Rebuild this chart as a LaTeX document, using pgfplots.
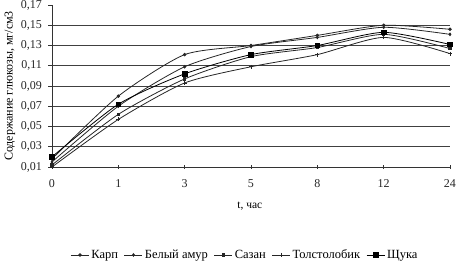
\documentclass[border=0pt]{standalone}
\usepackage{pgfplots}
\pgfplotsset{compat=1.18}
\usetikzlibrary{calc}
\usepackage{fontspec}
\setmainfont{Liberation Serif}
\begin{document}
\begin{tikzpicture}[x=1pt,y=1pt]
\begin{axis}[
  scale only axis, width=398pt, height=162pt,
  xmin=0, xmax=6, ymin=0.01, ymax=0.17,
  xtick={0,1,2,3,4,5,6},
  xticklabels={0,1,3,5,8,12,24},
  ytick={0.01,0.03,0.05,0.07,0.09,0.11,0.13,0.15},
  extra y ticks={0.17},
  extra tick style={grid=none},
  ymajorgrids,
  grid style={black!75, line width=0.8pt},
  axis x line=bottom, axis y line=left,
  axis line style={-, black!80, line width=0.6pt},
  tick style={black!80, line width=0.6pt},
  major tick length=3.5pt,
  xtick align=center, ytick align=outside,
  /pgf/number format/assume math mode=true,
  tick label style={font=\fontsize{12}{14}\selectfont, black!85},
  xticklabel style={yshift=-7pt},
  yticklabel style={xshift=-3pt, /pgf/number format/fixed, /pgf/number format/fixed zerofill, /pgf/number format/precision=2, /pgf/number format/use comma},
  xlabel={t, час},
  xlabel style={font=\fontsize{11.5}{13}\selectfont, at={(axis description cs:0.497,-0.24)}, anchor=center},
  ylabel={Содержание глюкозы, мг/см3},
  ylabel style={font=\fontsize{12}{14}\selectfont, at={(axis description cs:0,0.5)}, anchor=center, yshift=42pt},
  legend style={draw=none, at={(0.485,-0.543)}, anchor=center, legend columns=-1,
    font=\fontsize{12.5}{14}\selectfont, /tikz/every even column/.append style={column sep=4pt}},
  legend image code/.code={\draw[#1] (0pt,0pt) -- (9pt,0pt) -- (18pt,0pt); \draw[#1, only marks] plot coordinates {(9pt,0pt)};},
]
\coordinate (ll) at (rel axis cs:0,0);
\addplot[black!85, line width=0.8pt, smooth, tension=0.4, mark=*, mark size=1.3pt, mark options={fill=black!85,draw=black!85}] coordinates {(0,0.018) (1,0.080) (2,0.121) (3,0.130) (4,0.140) (5,0.150) (6,0.146)};
\addlegendentry{Карп}
\addplot[black!85, line width=0.8pt, smooth, tension=0.4, mark=diamond*, mark size=1.3pt, mark options={fill=black!85,draw=black!85}] coordinates {(0,0.015) (1,0.070) (2,0.109) (3,0.129) (4,0.138) (5,0.148) (6,0.141)};
\addlegendentry{Белый амур}
\addplot[black!85, line width=0.8pt, smooth, tension=0.4, mark=square*, mark size=1.2pt, mark options={fill=black!85,draw=black!85}] coordinates {(0,0.012) (1,0.062) (2,0.097) (3,0.119) (4,0.128) (5,0.141) (6,0.127)};
\addlegendentry{Сазан}
\addplot[black!85, line width=0.8pt, smooth, tension=0.4, mark=+, mark size=2pt, mark options={draw=black!85}] coordinates {(0,0.010) (1,0.057) (2,0.093) (3,0.109) (4,0.121) (5,0.138) (6,0.122)};
\addlegendentry{Толстолобик}
\addplot[black, line width=0.8pt, smooth, tension=0.4, mark=square*, mark size=2.3pt, mark options={fill=black,draw=black}] coordinates {(0,0.020) (1,0.072) (2,0.102) (3,0.121) (4,0.130) (5,0.143) (6,0.131)};
\addlegendentry{Щука}
\end{axis}
\pgfresetboundingbox
\path ($(ll)+(-52,-100)$) rectangle ++(456,267);
\end{tikzpicture}
\end{document}
